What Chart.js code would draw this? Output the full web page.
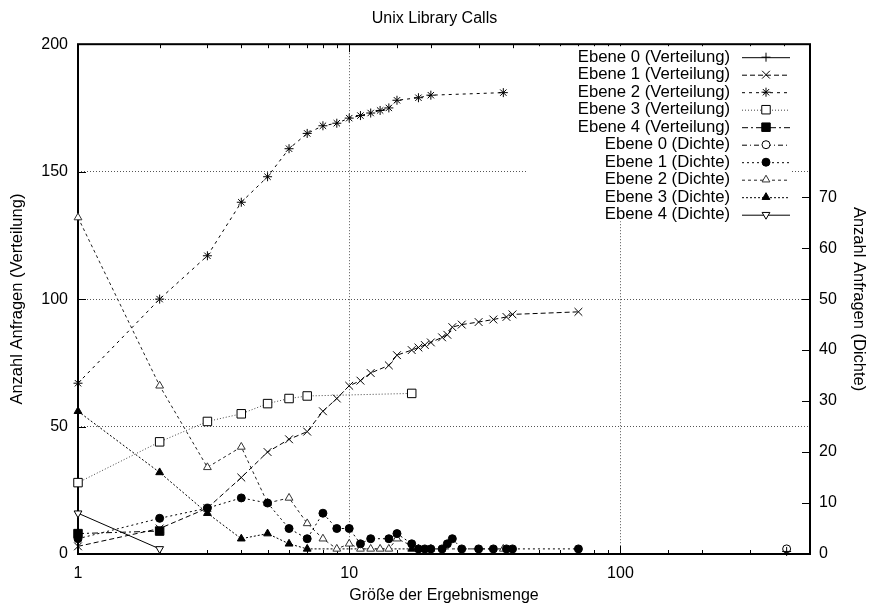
<!DOCTYPE html>
<html>
<head>
<meta charset="utf-8">
<script src="https://cdn.jsdelivr.net/npm/chart.js@4.4.1/dist/chart.umd.min.js"></script>
<style>
html, body { margin: 0; padding: 0; background: #fff; }
</style>
</head>
<body>
<canvas id="chart" width="869" height="607"></canvas>
<script>
// Ergebnismengen je Ebene (x) und Anzahl Anfragen
var labels = [
    "Ebene 0 (Verteilung)", "Ebene 1 (Verteilung)", "Ebene 2 (Verteilung)",
    "Ebene 3 (Verteilung)", "Ebene 4 (Verteilung)",
    "Ebene 0 (Dichte)", "Ebene 1 (Dichte)", "Ebene 2 (Dichte)",
    "Ebene 3 (Dichte)", "Ebene 4 (Dichte)"
];
var size0 = [410];
var size1 = [1, 2, 3, 4, 5, 6, 7, 8, 9, 10, 11, 12, 14, 15, 17, 18, 19, 20, 22, 23, 24, 26, 30, 34, 38, 40, 70];
var size2 = [1, 2, 3, 4, 5, 6, 7, 8, 9, 10, 11, 12, 13, 14, 15, 18, 20, 37];
var size3 = [1, 2, 3, 4, 5, 6, 7, 17];
var size4 = [1, 2];

var vert0 = [1];
var vert1 = [3, 10, 18, 30, 40, 45, 48, 56, 61, 66, 68, 71, 74, 78, 80, 81, 82, 83, 85, 86, 89, 90, 91, 92, 93, 94, 95];
var vert2 = [67, 100, 117, 138, 148, 159, 165, 168, 169, 171, 172, 173, 174, 175, 178, 179, 180, 181];
var vert3 = [28, 44, 52, 55, 59, 61, 62, 63];
var vert4 = [8, 9];

var dichte0 = [1];
var dichte1 = [3, 7, 9, 11, 10, 5, 3, 8, 5, 5, 2, 3, 3, 4, 2, 1, 1, 1, 1, 2, 3, 1, 1, 1, 1, 1, 1];
var dichte2 = [66, 33, 17, 21, 10, 11, 6, 3, 1, 2, 1, 1, 1, 1, 3, 1, 1, 1];
var dichte3 = [28, 16, 8, 3, 4, 2, 1, 1];
var dichte4 = [8, 1];

var yTicksLeft = [0, 50, 100, 150, 200];
var yTicksRight = [0, 10, 20, 30, 40, 50, 60, 70];

function pts(xs, ys) {
    return xs.map(function (x, i) { return { x: x, y: ys[i] }; });
}
function isPow10(v) {
    var l = Math.log10(v);
    return Math.abs(l - Math.round(l)) < 1e-9;
}

var series = [
    [size0, vert0, 'y'], [size1, vert1, 'y'], [size2, vert2, 'y'], [size3, vert3, 'y'], [size4, vert4, 'y'],
    [size0, dichte0, 'y2'], [size1, dichte1, 'y2'], [size2, dichte2, 'y2'], [size3, dichte3, 'y2'], [size4, dichte4, 'y2']
];
var looks = [
    { style: 'cross', r: 4.5, dash: [], line: '#000', fill: '#000', edge: '#000', rot: 0 },
    { style: 'crossRot', r: 5.5, dash: [5, 3], line: '#000', fill: '#000', edge: '#000', rot: 0 },
    { style: 'star', r: 4.5, dash: [3, 4], line: '#000', fill: '#000', edge: '#000', rot: 0 },
    { style: 'rect', r: 6, dash: [1, 2], line: '#444', fill: '#fff', edge: '#000', rot: 0 },
    { style: 'rect', r: 6, dash: [6, 3, 2, 3], line: '#000', fill: '#000', edge: '#000', rot: 0 },
    { style: 'circle', r: 4, dash: [5, 3, 1, 3], line: '#000', fill: '#fff', edge: '#000', rot: 0 },
    { style: 'circle', r: 4, dash: [2, 3], line: '#000', fill: '#000', edge: '#000', rot: 0 },
    { style: 'triangle', r: 4.5, dash: [3, 3], line: '#222', fill: '#fff', edge: '#333', rot: 0 },
    { style: 'triangle', r: 4.5, dash: [2, 2], line: '#000', fill: '#000', edge: '#000', rot: 0 },
    { style: 'triangle', r: 4.5, dash: [], line: '#000', fill: '#fff', edge: '#000', rot: 180 }
];

var datasets = series.map(function (s, i) {
    var lk = looks[i];
    return {
        label: labels[i],
        data: pts(s[0], s[1]),
        yAxisID: s[2],
        borderColor: lk.line,
        borderWidth: 1,
        borderDash: lk.dash,
        pointStyle: lk.style,
        pointRadius: lk.r,
        pointRotation: lk.rot,
        pointBackgroundColor: lk.fill,
        pointBorderColor: lk.edge,
        pointBorderWidth: 1,
        fill: false,
        tension: 0,
        clip: false
    };
});

var FONT = '"Liberation Sans", Arial, sans-serif';
Chart.defaults.font.family = FONT;
Chart.defaults.font.size = 16;
Chart.defaults.color = '#000';

var frame = {
    id: 'frame',
    beforeDatasetsDraw: function (chart) {
        var a = chart.chartArea, ctx = chart.ctx;
        var xs = chart.scales.x, yl = chart.scales.y, yr = chart.scales.y2;
        ctx.save();
        ctx.strokeStyle = '#000';
        ctx.lineWidth = 1;
        ctx.beginPath();
        xs.ticks.forEach(function (t) {
            var px = Math.round(xs.getPixelForValue(t.value)) + 0.5;
            var len = isPow10(t.value) ? 8 : 4;
            ctx.moveTo(px, a.bottom); ctx.lineTo(px, a.bottom - len);
            ctx.moveTo(px, a.top); ctx.lineTo(px, a.top + len);
        });
        yl.ticks.forEach(function (t) {
            var py = Math.round(yl.getPixelForValue(t.value)) + 0.5;
            ctx.moveTo(a.left, py); ctx.lineTo(a.left + 8, py);
        });
        yr.ticks.forEach(function (t) {
            var py = Math.round(yr.getPixelForValue(t.value)) + 0.5;
            ctx.moveTo(a.right, py); ctx.lineTo(a.right - 8, py);
        });
        ctx.stroke();
        ctx.lineWidth = 2;
        ctx.strokeRect(a.left, a.top, a.right - a.left, a.bottom - a.top);
        ctx.restore();
    }
};

var gnuLegend = {
    id: 'gnuLegend',
    afterDatasetsDraw: function (chart) {
        var a = chart.chartArea, ctx = chart.ctx;
        var right = a.right - 20;
        ctx.save();
        ctx.fillStyle = '#fff';
        ctx.fillRect(right - 262, a.top + 2, 262, 175);
        ctx.font = '16.7px ' + FONT;
        ctx.textAlign = 'right';
        ctx.textBaseline = 'middle';
        chart.data.datasets.forEach(function (ds, i) {
            var y = a.top + 13 + i * 17.5;
            ctx.fillStyle = '#000';
            ctx.fillText(ds.label, right - 60, y);
            ctx.strokeStyle = ds.borderColor;
            ctx.lineWidth = 1;
            ctx.setLineDash(ds.borderDash);
            ctx.beginPath();
            ctx.moveTo(right - 48, y + 0.5);
            ctx.lineTo(right, y + 0.5);
            ctx.stroke();
            ctx.setLineDash([]);
            ctx.fillStyle = ds.pointBackgroundColor;
            ctx.strokeStyle = ds.pointBorderColor;
            Chart.helpers.drawPoint(ctx, {
                pointStyle: ds.pointStyle, rotation: ds.pointRotation,
                radius: ds.pointRadius, borderWidth: 1
            }, right - 24, y);
        });
        ctx.restore();
    }
};

new Chart("chart", {
    type: "line",
    data: { datasets: datasets },
    plugins: [frame, gnuLegend],
    options: {
        responsive: false,
        animation: false,
        layout: { padding: 0 },
        plugins: {
            legend: { display: false },
            tooltip: { enabled: false },
            title: {
                display: true,
                text: "Unix Library Calls",
                font: { size: 16, weight: 'normal' },
                color: '#000',
                padding: { top: 9, bottom: 16 }
            }
        },
        scales: {
            x: {
                type: 'logarithmic',
                min: 1,
                max: 500,
                afterFit: function (s) { s.height = 53; },
                border: { display: false, dash: [1, 2] },
                grid: {
                    drawTicks: false,
                    color: function (c) {
                        if (!c.tick) return 'rgba(0,0,0,0)';
                        return (isPow10(c.tick.value) && c.tick.value > 1) ? '#555' : 'rgba(0,0,0,0)';
                    }
                },
                ticks: {
                    autoSkip: false,
                    maxRotation: 0,
                    padding: 10,
                    callback: function (v) { return isPow10(v) ? String(Math.round(v)) : ''; }
                },
                title: { display: true, text: "Größe der Ergebnismenge", padding: { top: 0, bottom: 2 } }
            },
            y: {
                position: 'left',
                min: 0,
                max: 200,
                afterFit: function (s) { s.width = 78; },
                afterBuildTicks: function (s) { s.ticks = yTicksLeft.map(function (v) { return { value: v }; }); },
                border: { display: false, dash: [1, 2] },
                grid: {
                    drawTicks: false,
                    color: function (c) {
                        if (!c.tick) return 'rgba(0,0,0,0)';
                        return (c.tick.value > 0 && c.tick.value < 200) ? '#555' : 'rgba(0,0,0,0)';
                    }
                },
                ticks: { padding: 10 },
                title: { display: true, text: "Anzahl Anfragen (Verteilung)", font: { size: 16.5 }, padding: { top: 8, bottom: 0 } }
            },
            y2: {
                position: 'right',
                min: 0,
                max: 100,
                afterFit: function (s) { s.width = 59; },
                afterBuildTicks: function (s) { s.ticks = yTicksRight.map(function (v) { return { value: v }; }); },
                border: { display: false },
                grid: { drawTicks: false, drawOnChartArea: false },
                ticks: { padding: 9 },
                title: { display: true, text: "Anzahl Anfragen (Dichte)", font: { size: 16.5 }, padding: { top: 1, bottom: 0 } }
            }
        }
    }
});
</script>
</body>
</html>
